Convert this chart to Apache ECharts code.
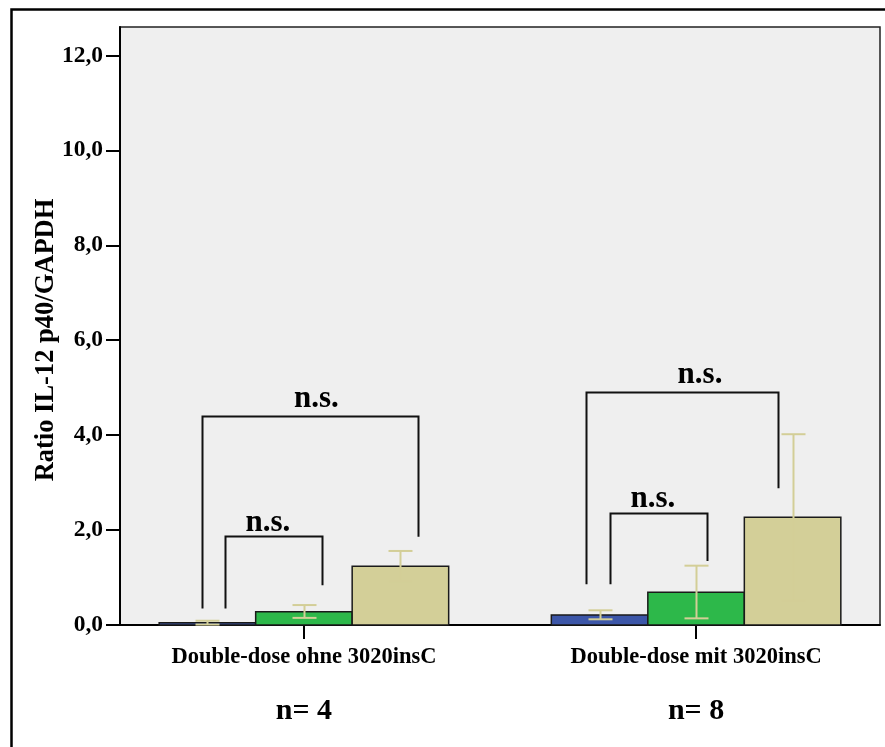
<!DOCTYPE html>
<html>
<head>
<meta charset="utf-8">
<script src="https://cdn.jsdelivr.net/npm/echarts@6/dist/echarts.min.js"></script>
<style>
html,body{margin:0;padding:0;background:#fff;}
#chart{width:885px;height:747px;}
</style>
</head>
<body>
<div id="chart"></div>
<script>
// ---- data ----
const categories = ['Double-dose ohne 3020insC', 'Double-dose mit 3020insC'];
const nLabels = ['n= 4', 'n= 8'];
const yTicks = [0, 2, 4, 6, 8, 10, 12];
const yTitle = 'Ratio IL-12 p40/GAPDH';

const blueMean  = [0.05, 0.21];
const blueLow   = [0.01, 0.12];
const blueHigh  = [0.09, 0.31];
const greenMean = [0.28, 0.69];
const greenLow  = [0.15, 0.14];
const greenHigh = [0.42, 1.25];
const tanMean   = [1.24, 2.27];
const tanLow    = [0.92, 0.52];
const tanHigh   = [1.56, 4.02];

// significance brackets: [xLeft, xRight, yTop, yLeftBottom, yRightBottom] (x in category units)
const brackets = [
  [-0.261, 0.292, 4.40, 0.35, 1.86],
  [-0.200, 0.047, 1.88, 0.35, 0.84],
  [0.719, 1.210, 4.91, 0.86, 2.88],
  [0.781, 1.027, 2.37, 0.86, 1.35]
];
const bracketLabels = ['n.s.', 'n.s.', 'n.s.', 'n.s.'];
const bracketLabelX = [0.032, -0.092, 1.010, 0.890];
const bracketLabelY = [4.57, 1.96, 5.07, 2.46];

// ---- chart ----
const BAR_PX = 96.5;
const CAP_PX = 24;
const FONT = '"Liberation Serif", "Times New Roman", serif';
const ERR_COLOR = '#D3CE97';

function barSeries(name, means, lows, highs, offset, color) {
  return {
    type: 'custom',
    name: name,
    coordinateSystem: 'cartesian2d',
    data: means.map((m, i) => [i, m, lows[i], highs[i]]),
    encode: { x: 0, y: 1 },
    z: 2,
    renderItem: function (params, api) {
      const x = api.value(0);
      const base = api.coord([x, 0]);
      const top = api.coord([x, api.value(1)]);
      const lo = api.coord([x, api.value(2)]);
      const hi = api.coord([x, api.value(3)]);
      const cx = base[0] + offset * BAR_PX;
      const ex = Math.round(cx) + 0.5;
      return {
        type: 'group',
        children: [
          { type: 'rect', shape: { x: cx - BAR_PX / 2, y: top[1], width: BAR_PX, height: base[1] - top[1] },
            style: { fill: color, stroke: '#1a1a1a', lineWidth: 1.5 } },
          { type: 'line', shape: { x1: ex, y1: lo[1], x2: ex, y2: hi[1] }, style: { stroke: ERR_COLOR, lineWidth: 2 } },
          { type: 'line', shape: { x1: ex - CAP_PX / 2, y1: lo[1], x2: ex + CAP_PX / 2, y2: lo[1] }, style: { stroke: ERR_COLOR, lineWidth: 2 } },
          { type: 'line', shape: { x1: ex - CAP_PX / 2, y1: hi[1], x2: ex + CAP_PX / 2, y2: hi[1] }, style: { stroke: ERR_COLOR, lineWidth: 2 } }
        ]
      };
    }
  };
}

const chart = echarts.init(document.getElementById('chart'), null, { renderer: 'canvas' });
chart.setOption({
  animation: false,
  backgroundColor: '#ffffff',
  grid: { left: 120, right: 5, top: 27, bottom: 122, show: true, backgroundColor: '#EFEFEF', borderColor: '#222', borderWidth: 1.5 },
  xAxis: {
    type: 'value', min: -0.469, max: 1.469,
    splitLine: { show: false },
    axisLine: { show: true, onZero: false, lineStyle: { color: '#000', width: 2 } },
    axisTick: { show: true, length: 14, lineStyle: { color: '#000', width: 2 }, customValues: [0, 1] },
    axisLabel: {
      customValues: [0, 1], margin: 19,
      formatter: function (v) { const i = Math.round(v); return '{a|' + categories[i] + '}\n{b|' + nLabels[i] + '}'; },
      rich: {
        a: { fontFamily: FONT, fontWeight: 'bold', fontSize: 22.5, lineHeight: 27, color: '#000' },
        b: { fontFamily: FONT, fontWeight: 'bold', fontSize: 30, lineHeight: 80, color: '#000' }
      }
    }
  },
  yAxis: {
    type: 'value', min: 0, max: 12.6,
    splitLine: { show: false },
    axisLine: { show: true, onZero: false, lineStyle: { color: '#000', width: 2 } },
    axisTick: { show: true, length: 14, lineStyle: { color: '#000', width: 2 }, customValues: yTicks },
    axisLabel: {
      customValues: yTicks, margin: 17,
      fontFamily: FONT, fontWeight: 'bold', fontSize: 23.5, color: '#000',
      formatter: function (v) { return v.toFixed(1).replace('.', ','); }
    }
  },
  graphic: [
    { type: 'rect', left: 9, top: 7, shape: { x: 0, y: 0, width: 1000, height: 1000 }, style: { fill: 'none', stroke: '#000', lineWidth: 2.5 }, silent: true, z: 100 },
    { type: 'text', x: 46, y: 340, rotation: Math.PI / 2,
      style: { text: yTitle, fontFamily: FONT, fontWeight: 'bold', fontSize: 26.5, fill: '#000', align: 'center', verticalAlign: 'middle' } }
  ],
  series: [
    barSeries('Blau', blueMean, blueLow, blueHigh, -1, '#3C56A8'),
    barSeries('Grün', greenMean, greenLow, greenHigh, 0, '#2DB84A'),
    barSeries('Beige', tanMean, tanLow, tanHigh, 1, '#D3CF98'),
    {
      type: 'custom', name: 'brackets', coordinateSystem: 'cartesian2d', z: 3,
      data: brackets,
      encode: { x: [0, 1], y: [2, 3, 4] },
      renderItem: function (params, api) {
        const xl = api.value(0), xr = api.value(1), yt = api.value(2), ylb = api.value(3), yrb = api.value(4);
        const p1 = api.coord([xl, ylb]), p2 = api.coord([xl, yt]), p3 = api.coord([xr, yt]), p4 = api.coord([xr, yrb]);
        const r = (v) => Math.round(v) + 0.5;
        return { type: 'polyline', shape: { points: [[r(p1[0]), p1[1]], [r(p2[0]), r(p2[1])], [r(p3[0]), r(p3[1])], [r(p4[0]), p4[1]]] },
          style: { stroke: '#111', lineWidth: 2, fill: 'none' } };
      }
    },
    {
      type: 'custom', name: 'labels', coordinateSystem: 'cartesian2d', z: 4,
      data: bracketLabelX.map((x, i) => [x, bracketLabelY[i]]),
      encode: { x: 0, y: 1 },
      renderItem: function (params, api) {
        const p = api.coord([api.value(0), api.value(1)]);
        return { type: 'text', x: p[0], y: p[1] - 9,
          style: { text: bracketLabels[params.dataIndex], fontFamily: FONT, fontWeight: 'bold', fontSize: 31, fill: '#000', align: 'center', verticalAlign: 'middle' } };
      }
    }
  ]
});
</script>
</body>
</html>
